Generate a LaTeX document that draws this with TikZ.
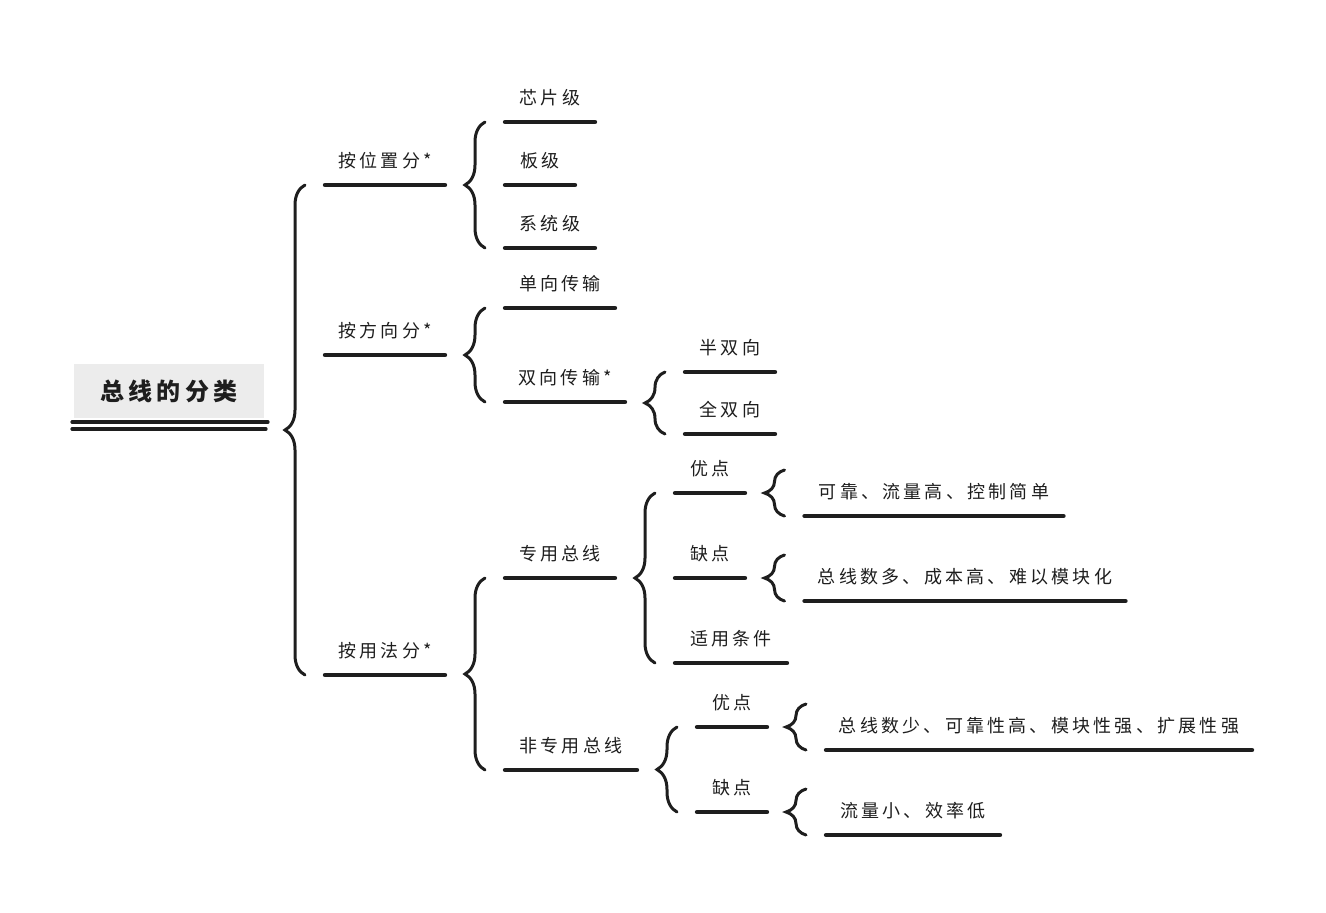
\documentclass[tikz,border=0pt]{standalone}
\usepackage{fontspec}
\usepackage{tikz}
\usetikzlibrary{decorations.pathreplacing}
\newfontfamily\cjk[LetterSpace=18]{Noto Sans CJK SC}
\definecolor{ink}{RGB}{30,30,30}
\definecolor{boxgray}{RGB}{236,236,236}
\newcommand{\px}{0.5pt}
\newcommand{\bracegap}{10pt}
\tikzstyle{item}=[inner xsep=0, inner ysep=9pt, outer sep=0, text depth=0pt, anchor=south,
                  font=\cjk\fontsize{9}{11}\selectfont, text=ink]
\tikzstyle{uline}=[draw=ink, line width=2.2pt, line cap=round]
\tikzstyle{rline}=[draw=ink, line width=1.6pt, line cap=round]
\tikzstyle{curly}=[draw=ink, line width=1.5pt, line cap=round, decorate,
                   decoration={brace, amplitude=10pt}]
\tikzstyle{sketchtree}=[x=\px, y=-\px,
                        % Root box with the title.
                        root/.style={fill=boxgray, inner sep=0, outer sep=0, minimum width=190*\px,
                                     minimum height=54*\px, text=ink,
                                     font=\cjk\bfseries\fontsize{12}{14}\selectfont}]

\begin{document}
\begin{tikzpicture}[sketchtree]
        \useasboundingbox (0,0) rectangle (1326,912);
        \node[root]                          (R)  at (169,391) {总线的分类};
        \node[item, minimum width=120*\px]   (A1) at (385,185) {按位置分*};
        \node[item, minimum width=120*\px]   (A2) at (385,355) {按方向分*};
        \node[item, minimum width=120*\px]   (A3) at (385,675) {按用法分*};
        \node[item, minimum width=90*\px]    (B1) at (550,122) {芯片级};
        \node[item, minimum width=70*\px]    (B2) at (540,185) {板级};
        \node[item, minimum width=90*\px]    (B3) at (550,248) {系统级};
        \node[item, minimum width=110*\px]   (B4) at (560,308) {单向传输};
        \node[item, minimum width=120*\px]   (B5) at (565,402) {双向传输*};
        \node[item, minimum width=110*\px]   (B6) at (560,578) {专用总线};
        \node[item, minimum width=132*\px]   (B7) at (571,770) {非专用总线};
        \node[item, minimum width=90*\px]    (C1) at (730,372) {半双向};
        \node[item, minimum width=90*\px]    (C2) at (730,434) {全双向};
        \node[item, minimum width=70*\px]    (C3) at (710,493) {优点};
        \node[item, minimum width=70*\px]    (C4) at (710,578) {缺点};
        \node[item, minimum width=112*\px]   (C5) at (731,663) {适用条件};
        \node[item, minimum width=70*\px]    (C6) at (732,727) {优点};
        \node[item, minimum width=70*\px]    (C7) at (732,812) {缺点};
        \node[item, minimum width=259*\px]   (D1) at (934,516) {可靠、流量高、控制简单};
        \node[item, minimum width=321*\px]   (D2) at (965,601) {总线数多、成本高、难以模块化};
        \node[item, minimum width=426*\px]   (D3) at (1039,750) {总线数少、可靠性高、模块性强、扩展性强};
        \node[item, minimum width=174*\px]   (D4) at (913,835) {流量小、效率低};
        \draw[rline] ([shift={(-2,4)}]R.south west) -- ([shift={(4,4)}]R.south east);
        \draw[rline] ([shift={(-2,11)}]R.south west) -- ([shift={(2,11)}]R.south east);
        \foreach \n in {A1,A2,A3,B1,B2,B3,B4,B5,B6,B7,C1,C2,C3,C4,C5,C6,C7,D1,D2,D3,D4}
            \draw[uline] (\n.south west) -- (\n.south east);
        \draw[curly] ([xshift=-\bracegap]A3.south west) -- ([xshift=-\bracegap]A1.south west);
        \draw[curly] ([xshift=-\bracegap]B3.south west) -- ([xshift=-\bracegap]B1.south west);
        \draw[curly] ([xshift=-\bracegap]B5.south west) -- ([xshift=-\bracegap]B4.south west);
        \draw[curly] ([xshift=-\bracegap]B7.south west) -- ([xshift=-\bracegap]B6.south west);
        \draw[curly] ([xshift=-\bracegap]C2.south west) -- ([xshift=-\bracegap]C1.south west);
        \draw[curly] ([xshift=-\bracegap]C5.south west) -- ([xshift=-\bracegap]C3.south west);
        \draw[curly] ([xshift=-\bracegap]C7.south west) -- ([xshift=-\bracegap]C6.south west);
        \draw[curly] ([xshift=-\bracegap]D1.south west) -- ([xshift=-\bracegap, yshift=46*\px]D1.south west);
        \draw[curly] ([xshift=-\bracegap]D2.south west) -- ([xshift=-\bracegap, yshift=46*\px]D2.south west);
        \draw[curly] ([xshift=-\bracegap]D3.south west) -- ([xshift=-\bracegap, yshift=46*\px]D3.south west);
        \draw[curly] ([xshift=-\bracegap]D4.south west) -- ([xshift=-\bracegap, yshift=46*\px]D4.south west);
    \end{tikzpicture}
\end{document}
